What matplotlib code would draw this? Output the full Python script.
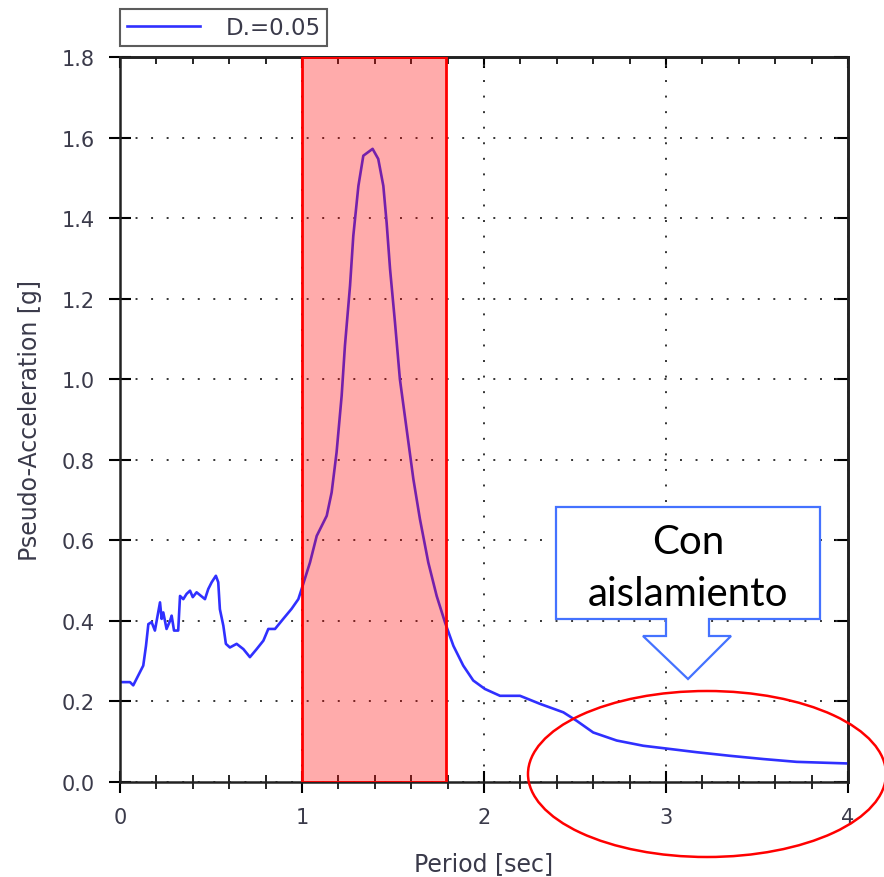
import numpy as np
import matplotlib
matplotlib.use("Agg")
import matplotlib.pyplot as plt
from matplotlib.patches import Rectangle, Ellipse, Polygon

# spectrum
period = [0.0, 0.055, 0.073, 0.128, 0.143, 0.156, 0.174, 0.192, 0.22, 0.229,
          0.238, 0.256, 0.275, 0.284, 0.297, 0.32, 0.33, 0.348, 0.366, 0.385,
          0.4, 0.421, 0.467, 0.485, 0.504, 0.527, 0.54, 0.549, 0.568, 0.582,
          0.604, 0.641, 0.678, 0.714, 0.751, 0.788, 0.815, 0.852, 0.897, 0.943,
          0.98, 0.998, 1.044, 1.081, 1.136, 1.163, 1.19, 1.218, 1.236, 1.264,
          1.282, 1.31, 1.337, 1.388, 1.419, 1.447, 1.465, 1.484, 1.511, 1.538,
          1.575, 1.612, 1.648, 1.694, 1.74, 1.786, 1.832, 1.886, 1.941, 2.005,
          2.088, 2.198, 2.308, 2.436, 2.509, 2.6, 2.729, 2.875, 3.022, 3.168,
          3.352, 3.535, 3.718, 4.0]
psa = [0.248, 0.248, 0.24, 0.289, 0.338, 0.392, 0.397, 0.376, 0.446, 0.405,
       0.421, 0.38, 0.40, 0.413, 0.376, 0.376, 0.462, 0.454, 0.467, 0.475,
       0.459, 0.471, 0.454, 0.479, 0.496, 0.512, 0.496, 0.429, 0.388, 0.343,
       0.334, 0.343, 0.33, 0.31, 0.33, 0.351, 0.38, 0.38, 0.405, 0.43,
       0.454, 0.479, 0.545, 0.611, 0.661, 0.719, 0.818, 0.959, 1.083, 1.232,
       1.356, 1.48, 1.555, 1.572, 1.547, 1.48, 1.389, 1.273, 1.141, 1.0,
       0.876, 0.752, 0.653, 0.545, 0.462, 0.396, 0.338, 0.289, 0.252, 0.231,
       0.214, 0.214, 0.194, 0.173, 0.152, 0.123, 0.103, 0.09, 0.082, 0.074,
       0.065, 0.057, 0.05, 0.046]

band = (1.0, 1.79)
label = "D.=0.05"
note = "Con\naislamiento"
xmajor = [0, 1, 2, 3, 4]
ymajor = [0.0, 0.2, 0.4, 0.6, 0.8, 1.0, 1.2, 1.4, 1.6, 1.8]

plt.rcParams['font.family'] = ['DejaVu Sans']
txt = '#3a3a4a'

fig = plt.figure(figsize=(8.84, 8.78), dpi=100)
ax = fig.add_axes([0.1357, 0.1082, 0.8236, 0.8257])

line, = ax.plot(period, psa, color='#3030ff', lw=1.9, zorder=2)

ax.add_patch(Rectangle((band[0], 0), band[1] - band[0], 1.8,
                       facecolor=(1, 0, 0, 0.33), edgecolor='red', lw=2, zorder=3))

ax.set_xlim(0, 4)
ax.set_ylim(0, 1.8)
ax.set_xticks(xmajor)
ax.set_xticks(np.arange(0, 4.01, 0.2), minor=True)
ax.set_yticks(ymajor)
ax.set_yticklabels(["%.1f" % v for v in ymajor])
ax.tick_params(which='major', direction='inout', length=16, width=1.5,
               labelsize=15, labelcolor=txt, pad=10)
ax.tick_params(which='minor', direction='inout', length=10, width=1.2)
ax.grid(True, which='major', color='#333333', linestyle=(0, (1, 7)), lw=1.4)
for s in ax.spines.values():
    s.set_linewidth(1.8)
    s.set_color('#222222')

# inward ticks on the top and right edges
top = ax.secondary_xaxis('top')
top.set_xticks(xmajor)
top.set_xticks(np.arange(0, 4.01, 0.2), minor=True)
top.tick_params(which='major', direction='in', length=8, width=1.5, labeltop=False)
top.tick_params(which='minor', direction='in', length=5, width=1.2)
top.spines['top'].set_linewidth(1.8)
right = ax.secondary_yaxis('right')
right.set_yticks(ymajor)
right.tick_params(direction='in', length=10, width=1.5, labelright=False)
right.spines['right'].set_linewidth(1.8)

ax.set_xlabel("Period [sec]", fontsize=17, color=txt, labelpad=17)
ax.set_ylabel("Pseudo-Acceleration [g]", fontsize=17, color=txt, labelpad=14)

leg = ax.legend([line], [label], loc='lower left', bbox_to_anchor=(0.0, 1.015),
                fontsize=16.5, frameon=True, fancybox=False, edgecolor='#333333',
                handlelength=3.2, borderpad=0.3, handletextpad=1.1,
                borderaxespad=0.0, labelcolor=txt)
leg.get_frame().set_linewidth(1.5)

# callout annotation in figure pixels
W, H = 884, 878
def fx(p):
    return p / W
def fy(p):
    return 1 - p / H

callout = [(556, 508), (820, 508), (820, 620), (709, 620), (709, 637), (731, 637),
           (688, 680), (643, 637), (666, 637), (666, 620), (556, 620)]
fig.patches.append(Polygon([(fx(a), fy(b)) for a, b in callout], closed=True,
                           transform=fig.transFigure, facecolor='white',
                           edgecolor='#4472ff', lw=1.6, zorder=5))
fig.text(fx(688), fy(568), note, ha='center', va='center', fontsize=29,
         family=['Lato', 'DejaVu Sans'], linespacing=1.5, zorder=6)

fig.patches.append(Ellipse((fx(707), fy(775)), 358 / W, 166 / H,
                           transform=fig.transFigure, facecolor='none',
                           edgecolor='red', lw=1.8, zorder=5))

fig.savefig("out.png", dpi=100)
